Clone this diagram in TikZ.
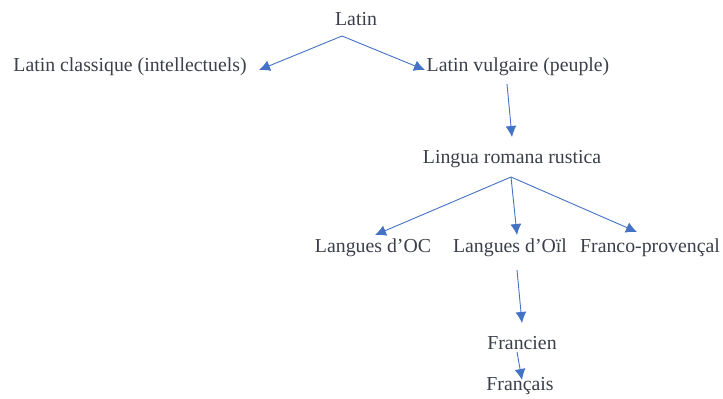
\documentclass[tikz,border=0pt]{standalone}
\usepackage{fontspec}
\setmainfont{Liberation Serif}
\usetikzlibrary{arrows.meta}
\definecolor{lienbleu}{HTML}{4472C4}
\definecolor{texte}{HTML}{3B3F4A}
\begin{document}
\begin{tikzpicture}[x=0.5pt, y=-0.5pt,
  main/.style = {text=texte, inner sep=0pt, font=\fontsize{9.9}{12}\selectfont},
  lien/.style = {draw=lienbleu, line width=0.45pt, -{Latex[length=5.5pt,width=5.5pt]}}]
		\useasboundingbox (0,0) rectangle (723,398);
		\node[main] (lat)  at (356,19) {Latin};
		\node[main] (cla)  at (130,67) {Latin classique (intellectuels)};
		\node[main] (vul)  at (518,67) {Latin vulgaire (peuple)};
		\node[main] (lrr)  at (512,159) {Lingua romana rustica};
		\node[main] (oc)   at (373,248) {Langues d’OC};
		\node[main] (oil)  at (510,248) {Langues d’Oïl};
		\node[main] (fp)   at (650,248) {Franco-provençal};
		\node[main] (fcn)  at (522,343) {Francien};
		\node[main] (fra)  at (520,386) {Français};
		% points de depart et d'arrivee des fleches
		\coordinate (lat-s) at (342,36);
		\coordinate (cla-e) at (259,70);
		\coordinate (vul-e) at (425,70);
		\coordinate (vul-s) at (507,84);
		\coordinate (lrr-e) at (512,137);
		\coordinate (lrr-s) at (511,177);
		\coordinate (oc-e)  at (375,235);
		\coordinate (oil-e) at (517,235);
		\coordinate (fp-e)  at (637,232);
		\coordinate (oil-s) at (517,270);
		\coordinate (fcn-e) at (522,323);
		\coordinate (fcn-s) at (517,352);
		\coordinate (fra-e) at (522,380);
		\draw[lien] (lat-s) -- (cla-e);
		\draw[lien] (lat-s) -- (vul-e);
		\draw[lien] (vul-s) -- (lrr-e);
		\draw[lien] (lrr-s) -- (oc-e);
		\draw[lien] (lrr-s) -- (oil-e);
		\draw[lien] (lrr-s) -- (fp-e);
		\draw[lien] (oil-s) -- (fcn-e);
		\draw[lien] (fcn-s) -- (fra-e);
	\end{tikzpicture}
\end{document}
